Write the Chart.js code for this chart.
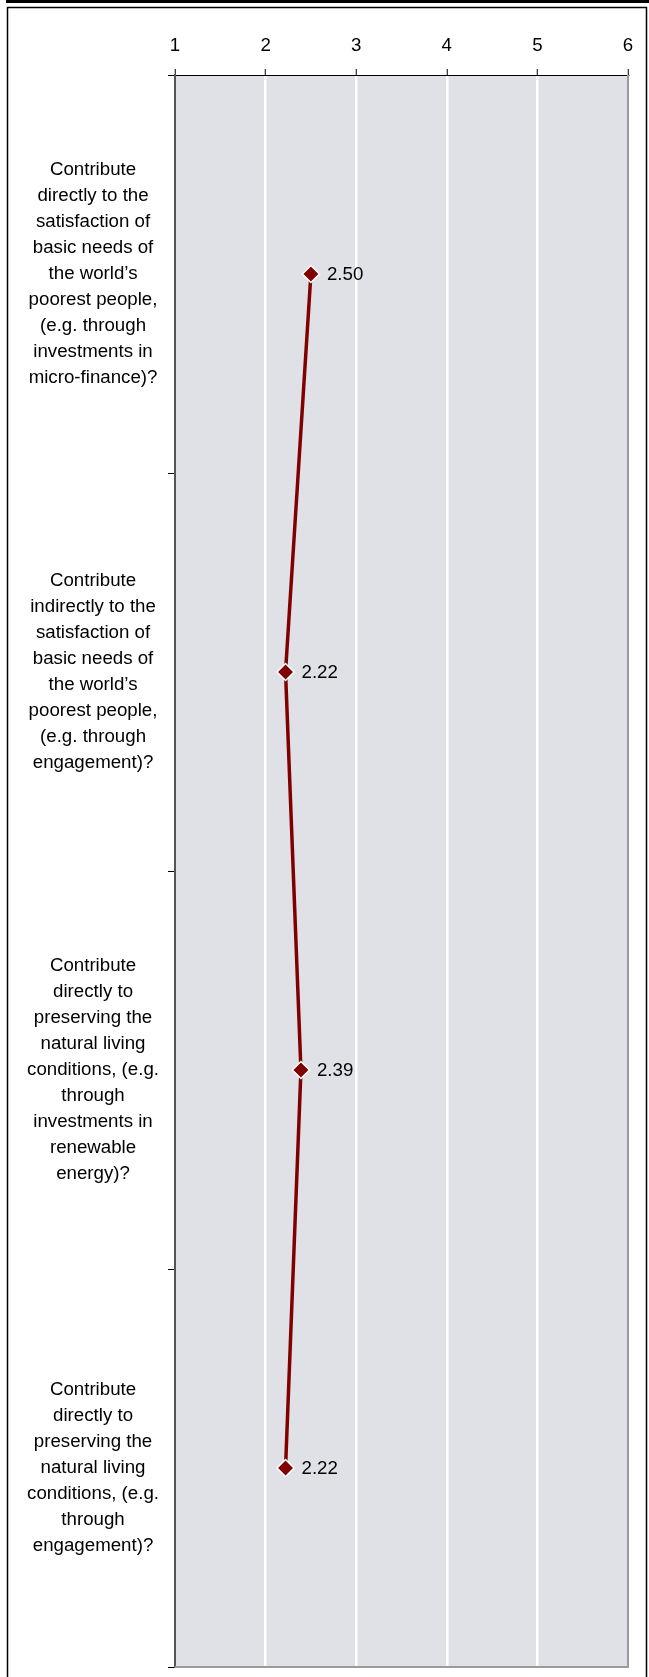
<!DOCTYPE html>
<html>
<head>
<meta charset="utf-8">
<title>Contribution ratings</title>
<script src="https://cdn.jsdelivr.net/npm/chart.js@4.4.1/dist/chart.umd.min.js"></script>
<style>
  html, body { margin: 0; padding: 0; background: #ffffff; }
  canvas { display: block; }
</style>
</head>
<body>
<canvas id="chart" width="649" height="1677"></canvas>
<script>
// Survey questions (wrapped as they are shown beside the plot)
const questions = [
  ['Contribute', 'directly to the', 'satisfaction of', 'basic needs of', 'the world\u2019s', 'poorest people,', '(e.g. through', 'investments in', 'micro-finance)?'],
  ['Contribute', 'indirectly to the', 'satisfaction of', 'basic needs of', 'the world\u2019s', 'poorest people,', '(e.g. through', 'engagement)?'],
  ['Contribute', 'directly to', 'preserving the', 'natural living', 'conditions, (e.g.', 'through', 'investments in', 'renewable', 'energy)?'],
  ['Contribute', 'directly to', 'preserving the', 'natural living', 'conditions, (e.g.', 'through', 'engagement)?']
];

// Mean rating per question
const meanScores = [2.50, 2.22, 2.39, 2.22];

// Rating scale shown along the top
const ratingSteps = [1, 2, 3, 4, 5, 6];

const FONT = '"Liberation Sans", Arial, sans-serif';
const TEXT_SIZE = 18.7;
const LINE_RED = '#800000';

// Grey plot panel plus the outer frame of the figure
const panelAndFrame = {
  id: 'panelAndFrame',
  beforeDraw(chart) {
    const { ctx, chartArea: a } = chart;
    ctx.save();
    ctx.fillStyle = '#dfe1e6';
    ctx.fillRect(a.left, a.top, a.right - a.left, a.bottom - a.top);
    ctx.fillStyle = '#000000';
    ctx.fillRect(6, 0, 643, 3);
    ctx.strokeStyle = '#000000';
    ctx.lineWidth = 1.5;
    ctx.beginPath();
    ctx.moveTo(7.5, 1677);
    ctx.lineTo(7.5, 7.5);
    ctx.lineTo(646.5, 7.5);
    ctx.lineTo(646.5, 1677);
    ctx.stroke();
    ctx.restore();
  },
  beforeDatasetsDraw(chart) {
    const { ctx, chartArea: a } = chart;
    ctx.save();
    ctx.strokeStyle = '#9a9a9a';
    ctx.lineWidth = 2;
    ctx.beginPath();
    ctx.moveTo(a.right, a.top);
    ctx.lineTo(a.right, a.bottom);
    ctx.lineTo(a.left, a.bottom);
    ctx.stroke();
    ctx.restore();
  }
};

// Value printed to the right of each marker
const pointValues = {
  id: 'pointValues',
  afterDatasetsDraw(chart) {
    const { ctx } = chart;
    const meta = chart.getDatasetMeta(0);
    const values = chart.data.datasets[0].data;
    ctx.save();
    ctx.fillStyle = '#000000';
    ctx.font = TEXT_SIZE + 'px ' + FONT;
    ctx.textAlign = 'left';
    ctx.textBaseline = 'middle';
    meta.data.forEach((pt, i) => {
      ctx.fillText(values[i].toFixed(2), pt.x + 16, pt.y + 1);
    });
    ctx.restore();
  }
};

new Chart(document.getElementById('chart'), {
  type: 'line',
  data: {
    labels: questions,
    datasets: [{
      data: meanScores,
      borderColor: LINE_RED,
      borderWidth: 3.5,
      backgroundColor: LINE_RED,
      pointStyle: 'rectRot',
      pointRadius: 8.5,
      pointBackgroundColor: LINE_RED,
      pointBorderColor: '#ffffff',
      pointBorderWidth: 1.5,
      tension: 0,
      fill: false
    }]
  },
  options: {
    indexAxis: 'y',
    responsive: false,
    animation: false,
    devicePixelRatio: 1,
    layout: { padding: { left: 8, top: 8, right: 21, bottom: 6 } },
    plugins: {
      legend: { display: false },
      tooltip: { enabled: false }
    },
    scales: {
      x: {
        type: 'linear',
        position: 'top',
        min: ratingSteps[0],
        max: ratingSteps[ratingSteps.length - 1],
        afterFit(scale) {
          scale.height = 67;
          scale.paddingLeft = 0;
          scale.paddingRight = 0;
        },
        afterBuildTicks(scale) { scale.ticks = ratingSteps.map(v => ({ value: v })); },
        ticks: {
          color: '#000000',
          font: { family: FONT, size: TEXT_SIZE },
          padding: 12,
          maxRotation: 0
        },
        grid: {
          color: ctx => (ctx.tick && (ctx.tick.value === ratingSteps[0] || ctx.tick.value === ratingSteps[ratingSteps.length - 1])) ? 'rgba(0,0,0,0)' : '#ffffff',
          lineWidth: 2.5,
          tickColor: '#000000',
          tickWidth: 1,
          tickLength: 6
        },
        border: { display: true, color: '#000000', width: 1 }
      },
      y: {
        type: 'category',
        offset: true,
        afterFit(scale) {
          scale.width = 167;
          scale.paddingTop = 0;
          scale.paddingBottom = 0;
        },
        ticks: {
          color: '#000000',
          font: { family: FONT, size: TEXT_SIZE, lineHeight: '26px' },
          crossAlign: 'center',
          padding: 9,
          autoSkip: false
        },
        grid: {
          offset: true,
          drawOnChartArea: false,
          tickColor: '#000000',
          tickWidth: 1,
          tickLength: 7
        },
        border: { display: true, color: '#555555', width: 2 }
      }
    }
  },
  plugins: [panelAndFrame, pointValues]
});
</script>
</body>
</html>
